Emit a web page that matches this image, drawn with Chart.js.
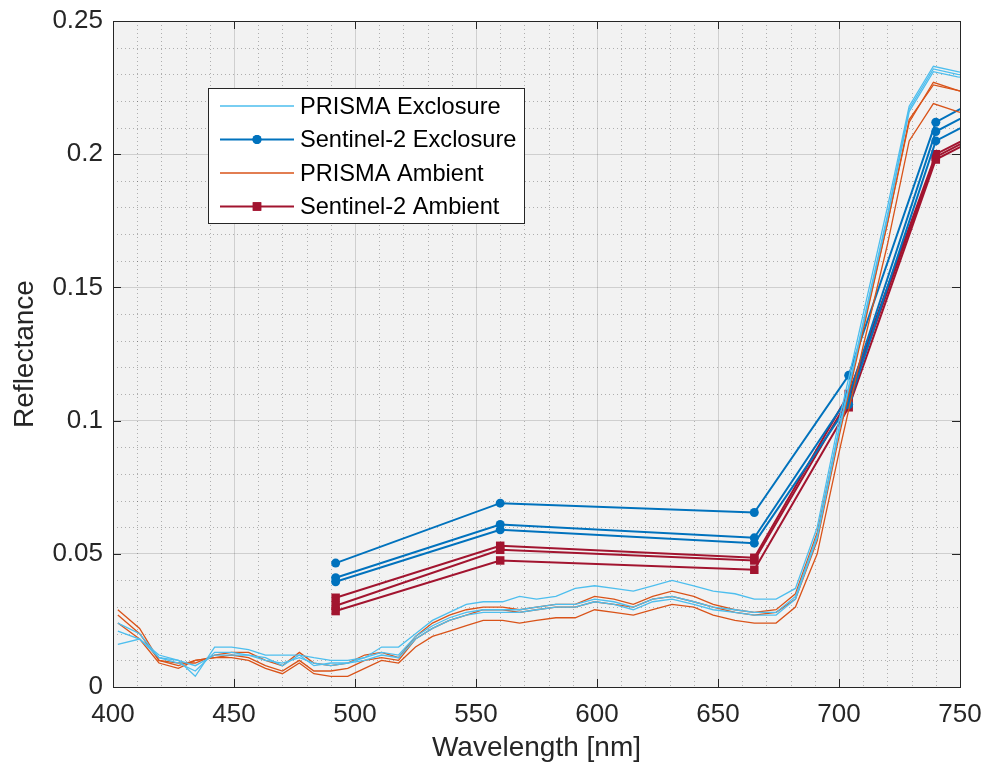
<!DOCTYPE html>
<html>
<head>
<meta charset="utf-8">
<script src="https://cdn.jsdelivr.net/npm/chart.js@4.4.1/dist/chart.umd.min.js"></script>
<style>
  html, body { margin: 0; padding: 0; background: #ffffff; }
  #wrap { width: 987px; height: 769px; }
</style>
</head>
<body>
<div id="wrap"><canvas id="grafico"></canvas></div>
<script>
// wavelengths (nm)
const prismaWl = [402, 411, 419, 427, 434, 442, 449, 456, 463, 470, 477, 483, 490, 497, 504, 511, 518, 525, 532, 539, 546, 553, 561, 568, 575, 583, 591, 599, 607, 615, 623, 631, 640, 648, 657, 665, 674, 682, 691, 700, 710, 720, 729, 739, 749, 759];
const s2Wl = [492, 560, 665, 704, 740, 783];

// PRISMA spectra
const prismaExcl1 = [.021, .018, .012, .010, .004, .015, .015, .014, .012, .012, .012, .011, .010, .010, .011, .015, .015, .020, .025, .028, .031, .032, .032, .034, .033, .034, .037, .038, .037, .036, .038, .040, .038, .036, .035, .033, .033, .037, .060, .100, .140, .180, .218, .233, .231, .229];
const prismaExcl2 = [.016, .018, .011, .009, .006, .013, .013, .012, .011, .008, .012, .008, .009, .009, .011, .013, .012, .019, .023, .026, .028, .029, .029, .029, .030, .031, .031, .033, .032, .030, .033, .034, .032, .030, .029, .028, .028, .034, .057, .097, .137, .177, .217, .232, .230, .229];
const prismaExcl3 = [.024, .020, .011, .010, .008, .012, .012, .012, .010, .009, .011, .009, .008, .009, .010, .012, .011, .018, .022, .025, .027, .028, .028, .028, .029, .030, .030, .032, .031, .029, .032, .033, .031, .029, .028, .027, .027, .033, .056, .096, .136, .176, .216, .231, .229, .228];
const prismaAmb1 = [.029, .022, .010, .009, .009, .012, .013, .013, .010, .008, .013, .009, .008, .009, .012, .013, .011, .019, .024, .027, .029, .030, .030, .029, .030, .031, .031, .034, .033, .031, .034, .036, .034, .031, .029, .028, .029, .035, .058, .096, .135, .174, .212, .227, .224, .221];
const prismaAmb2 = [.027, .020, .010, .008, .010, .011, .012, .011, .008, .006, .010, .006, .006, .007, .010, .011, .010, .018, .022, .025, .027, .029, .029, .028, .029, .030, .030, .032, .031, .030, .033, .034, .032, .030, .028, .027, .028, .033, .055, .094, .134, .174, .213, .226, .224, .222];
const prismaAmb3 = [.024, .018, .009, .007, .010, .011, .011, .010, .007, .005, .009, .005, .004, .004, .007, .010, .009, .015, .019, .021, .023, .025, .025, .024, .025, .026, .026, .029, .028, .027, .029, .031, .030, .027, .025, .024, .024, .030, .050, .088, .128, .166, .205, .219, .216, .213];

// Sentinel-2 spectra
const s2Excl1 = [.0465, .069, .0655, .117, .212, .233];
const s2Excl2 = [.041, .061, .056, .109, .2085, .229];
const s2Excl3 = [.0395, .059, .054, .106, .205, .225];
const s2Amb1 = [.0335, .053, .0485, .110, .200, .220];
const s2Amb2 = [.0305, .0515, .0475, .108, .199, .219];
const s2Amb3 = [.0285, .0475, .044, .105, .198, .218];

const xTicks = [400, 450, 500, 550, 600, 650, 700, 750];
const yTicks = [0, 0.05, 0.1, 0.15, 0.2, 0.25];
const legendLabels = ['PRISMA Exclosure', 'Sentinel-2 Exclosure', 'PRISMA Ambient', 'Sentinel-2 Ambient'];

const corPrismaExcl = '#4DBEEE';
const corS2Excl = '#0072BD';
const corPrismaAmb = '#D95319';
const corS2Amb = '#A2142F';
const fonte = '"Liberation Sans", Arial, sans-serif';
const corTexto = '#262626';

function pares(wl, ys) {
    return wl.map((w, i) => ({ x: w, y: ys[i] }));
}

function linhaPrisma(ys, cor) {
    return { data: pares(prismaWl, ys), borderColor: cor, borderWidth: 1.3, pointRadius: 0, fill: false, tension: 0 };
}

function linhaS2(ys, cor, estilo) {
    return {
        data: pares(s2Wl, ys), borderColor: cor, backgroundColor: cor, borderWidth: 2,
        pointRadius: estilo === 'rect' ? 6 : 4.5, pointStyle: estilo, pointBorderWidth: 0,
        fill: false, tension: 0
    };
}

// eixos estilo MATLAB: fundo, grade menor pontilhada, ticks para dentro, caixa e legenda
const eixosPlugin = {
    id: 'eixosMatlab',
    beforeDraw(chart) {
        const ctx = chart.ctx;
        const a = chart.chartArea;
        const sx = chart.scales.x, sy = chart.scales.y;
        ctx.save();
        ctx.fillStyle = '#ffffff';
        ctx.fillRect(0, 0, chart.width, chart.height);
        ctx.fillStyle = '#f2f2f2';
        ctx.fillRect(a.left, a.top, a.right - a.left, a.bottom - a.top);
        ctx.strokeStyle = 'rgba(0,0,0,0.28)';
        ctx.lineWidth = 1;
        ctx.setLineDash([1, 3]);
        for (let w = 410; w < 750; w += 10) {
            if (w % 50 === 0) continue;
            const px = Math.round(sx.getPixelForValue(w)) + 0.5;
            ctx.beginPath(); ctx.moveTo(px, a.top); ctx.lineTo(px, a.bottom); ctx.stroke();
        }
        for (let k = 1; k < 25; k++) {
            if (k % 5 === 0) continue;
            const py = Math.round(sy.getPixelForValue(k / 100)) + 0.5;
            ctx.beginPath(); ctx.moveTo(a.left, py); ctx.lineTo(a.right, py); ctx.stroke();
        }
        ctx.restore();
    },
    afterDatasetsDraw(chart) {
        const ctx = chart.ctx;
        const a = chart.chartArea;
        const sx = chart.scales.x, sy = chart.scales.y;
        ctx.save();
        ctx.strokeStyle = corTexto;
        ctx.lineWidth = 1;
        ctx.strokeRect(Math.round(a.left) + 0.5, Math.round(a.top) + 0.5, Math.round(a.right - a.left), Math.round(a.bottom - a.top));
        const tl = 8;
        ctx.beginPath();
        xTicks.forEach(t => {
            const px = Math.round(sx.getPixelForValue(t)) + 0.5;
            ctx.moveTo(px, a.bottom); ctx.lineTo(px, a.bottom - tl);
            ctx.moveTo(px, a.top); ctx.lineTo(px, a.top + tl);
        });
        yTicks.forEach(t => {
            const py = Math.round(sy.getPixelForValue(t)) + 0.5;
            ctx.moveTo(a.left, py); ctx.lineTo(a.left + tl, py);
            ctx.moveTo(a.right, py); ctx.lineTo(a.right - tl, py);
        });
        ctx.stroke();

        // legenda
        const bx = 208.5, by = 88.5, bw = 316, bh = 135;
        ctx.fillStyle = '#ffffff';
        ctx.fillRect(bx, by, bw, bh);
        ctx.strokeStyle = corTexto;
        ctx.strokeRect(bx, by, bw, bh);
        const cores = [corPrismaExcl, corS2Excl, corPrismaAmb, corS2Amb];
        const marcas = [null, 'circle', null, 'rect'];
        ctx.font = `23.6px ${fonte}`;
        ctx.textBaseline = 'middle';
        ctx.textAlign = 'left';
        legendLabels.forEach((txt, i) => {
            const y = 106 + i * 33.5;
            ctx.strokeStyle = cores[i];
            ctx.lineWidth = marcas[i] ? 2 : 1.5;
            ctx.beginPath(); ctx.moveTo(220, y); ctx.lineTo(294, y); ctx.stroke();
            if (marcas[i]) {
                ctx.fillStyle = cores[i];
                Chart.helpers.drawPoint(ctx, { pointStyle: marcas[i], radius: marcas[i] === 'rect' ? 6 : 4.5, borderWidth: 0 }, 257, y);
                ctx.fill();
            }
            ctx.fillStyle = '#000000';
            ctx.fillText(txt, 300, y + 1);
        });
        ctx.restore();
    }
};

const grafico = document.getElementById('grafico').getContext('2d');
new Chart(grafico, {
    type: 'line',
    data: {
        datasets: [
            linhaPrisma(prismaExcl1, corPrismaExcl),
            linhaPrisma(prismaExcl2, corPrismaExcl),
            linhaPrisma(prismaExcl3, corPrismaExcl),
            linhaPrisma(prismaAmb1, corPrismaAmb),
            linhaPrisma(prismaAmb2, corPrismaAmb),
            linhaPrisma(prismaAmb3, corPrismaAmb),
            linhaS2(s2Excl1, corS2Excl, 'circle'),
            linhaS2(s2Excl2, corS2Excl, 'circle'),
            linhaS2(s2Excl3, corS2Excl, 'circle'),
            linhaS2(s2Amb1, corS2Amb, 'rect'),
            linhaS2(s2Amb2, corS2Amb, 'rect'),
            linhaS2(s2Amb3, corS2Amb, 'rect')
        ]
    },
    options: {
        responsive: true,
        maintainAspectRatio: false,
        animation: false,
        layout: { padding: { left: 0, right: 27, top: 21, bottom: 0 } },
        plugins: {
            legend: { display: false },
            tooltip: { enabled: false }
        },
        scales: {
            x: {
                type: 'linear',
                min: 400,
                max: 750,
                afterBuildTicks: (s) => { s.ticks = xTicks.map(v => ({ value: v })); },
                afterFit: (s) => { s.height = 82; s.paddingLeft = 0; s.paddingRight = 0; },
                grid: { color: 'rgba(0,0,0,0.14)', lineWidth: 1, drawTicks: false },
                border: { display: false },
                ticks: { color: corTexto, font: { family: fonte, size: 26 }, padding: 12, maxRotation: 0 },
                title: { display: true, text: 'Wavelength [nm]', color: corTexto, font: { family: fonte, size: 28 }, padding: { top: 0, bottom: 4 } }
            },
            y: {
                min: 0,
                max: 0.25,
                afterBuildTicks: (s) => { s.ticks = yTicks.map(v => ({ value: v })); },
                afterFit: (s) => { s.width = 113; s.paddingTop = 0; s.paddingBottom = 0; },
                grid: { color: 'rgba(0,0,0,0.14)', lineWidth: 1, drawTicks: false },
                border: { display: false },
                ticks: {
                    color: corTexto, font: { family: fonte, size: 26 }, padding: 10,
                    callback: (v) => String(+Number(v).toFixed(2))
                },
                title: { display: true, text: 'Reflectance', color: corTexto, font: { family: fonte, size: 28 }, padding: { top: 8, bottom: 0 } }
            }
        }
    },
    plugins: [eixosPlugin]
});
</script>
</body>
</html>
